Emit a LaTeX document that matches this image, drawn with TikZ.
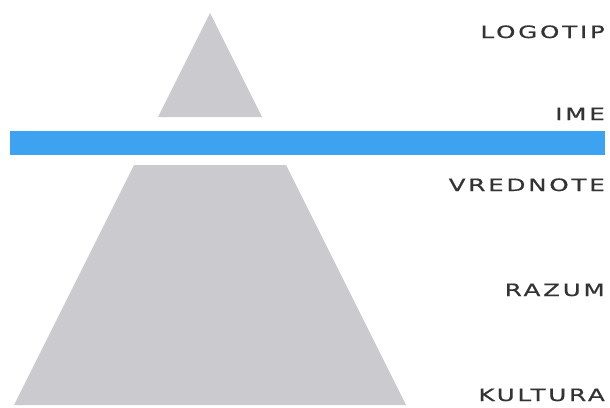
\documentclass[tikz,border=0pt]{standalone}
\usepackage{fontspec}
\newfontfamily\lblfont[FakeStretch=1.45,LetterSpace=16,FakeBold=0.6]{DejaVu Sans}
\definecolor{pyrgrey}{HTML}{CBCBCF}
\definecolor{barblue}{HTML}{3DA2F0}
\definecolor{txtgrey}{HTML}{333333}
\begin{document}
\begin{tikzpicture}[x=1pt,y=-1pt,
  lbl/.style={anchor=base east,inner sep=0pt,font=\lblfont\fontsize{17}{18}\selectfont,text=txtgrey},
  piece/.style={fill=pyrgrey,draw=none}]
\useasboundingbox (0,0) rectangle (610,407);
\fill[white] (0,0) rectangle (610,407);
\path[piece] (210,13) -- (262,117) -- (158,117) -- cycle;
\path[piece] (134,165) -- (286,165) -- (406,405) -- (14,405) -- cycle;
\node[fill=barblue,minimum width=595pt,minimum height=24pt,inner sep=0pt,anchor=north west] (bar) at (10,131) {};
\node[lbl] (logotip) at (605,38) {LOGOTIP};
\node[lbl] (ime) at (605,120) {IME};
\node[lbl] (vrednote) at (605,191) {VREDNOTE};
\node[lbl] (razum) at (605,296) {RAZUM};
\node[lbl] (kultura) at (605,401) {KULTURA};
\end{tikzpicture}
\end{document}
